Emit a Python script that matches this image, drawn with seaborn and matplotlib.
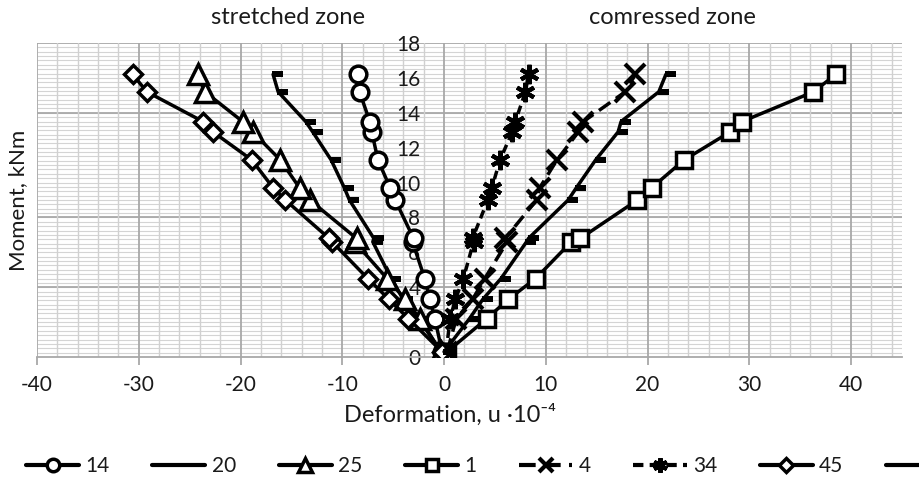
import matplotlib
matplotlib.use("Agg")
import matplotlib.pyplot as plt
import seaborn as sns
import numpy as np
from matplotlib.path import Path
from matplotlib.ticker import MultipleLocator, FixedLocator
from matplotlib.lines import Line2D

# ---------------- data ----------------
moment = [0.3, 2.2, 3.3, 4.5, 6.6, 6.8, 9.0, 9.7, 11.3, 12.9, 13.5, 15.2, 16.2]

s14 = [-0.2, -0.9, -1.4, -1.9, -3.1, -3.0, -4.8, -5.3, -6.5, -7.1, -7.3, -8.3, -8.5]
s20 = [-0.3, -2.5, -4.0, -5.2, -7.0, -6.9, -9.3, -9.8, -11.1, -12.9, -13.6, -16.3, -16.8]
s25 = [-0.3, -2.4, -3.8, -5.6, -8.8, -8.6, -13.2, -14.2, -16.1, -18.8, -19.8, -23.5, -24.2]
s1 = [0.3, 4.2, 6.3, 9.0, 12.5, 13.4, 19.0, 20.4, 23.6, 28.1, 29.3, 36.3, 38.5]
s4 = [0.3, 1.2, 2.8, 4.0, 6.2, 6.0, 9.1, 9.4, 11.1, 13.2, 13.7, 17.8, 18.8]
s34 = [0.2, 0.6, 1.1, 1.9, 2.9, 2.8, 4.3, 4.7, 5.5, 6.7, 7.0, 8.0, 8.3]
s45 = [-0.2, -3.5, -5.4, -7.5, -11.0, -11.3, -15.6, -16.8, -18.9, -22.7, -23.7, -29.2, -30.6]
s8 = [0.0, 2.5, 3.8, 5.6, 8.1, 8.3, 12.2, 13.0, 14.9, 17.1, 17.4, 21.1, 21.8]

series_labels = ["14", "20", "25", "1", "4", "34", "45", ""]
x_ticks = [-40, -30, -20, -10, 0, 10, 20, 30, 40]
y_ticks = [0, 2, 4, 6, 8, 10, 12, 14, 16, 18]
y_major_grid = [4, 8, 14, 18]

# ---------------- style ----------------
sns.set_theme(style="white")
plt.rcParams["font.family"] = ["Lato", "DejaVu Sans"]
plt.rcParams["axes.unicode_minus"] = False
TXT = "#1a1a1a"
FS = 15

dash_marker = Path(
    [(-0.1, -0.3), (1.0, -0.3), (1.0, 0.3), (-0.1, 0.3), (-0.1, -0.3)],
    [Path.MOVETO, Path.LINETO, Path.LINETO, Path.LINETO, Path.CLOSEPOLY],
)

styles = [
    dict(marker="o", markersize=12, mfc="white", ls="-"),
    dict(marker=dash_marker, markersize=15, mfc="black", ls="-"),
    dict(marker="^", markersize=14, mfc="white", ls="-"),
    dict(marker="s", markersize=12, mfc="white", ls="-"),
    dict(marker="x", markersize=14, mfc="white", ls=(0, (4, 2))),
    dict(marker=(6, 2, 0), markersize=14, mfc="white", ls=(0, (2.5, 1.5))),
    dict(marker="D", markersize=9.5, mfc="white", ls="-"),
    dict(marker=dash_marker, markersize=15, mfc="black", ls="-"),
]
all_series = [s14, s20, s25, s1, s4, s34, s45, s8]

fig = plt.figure(figsize=(9.19, 4.88), dpi=100)
ax = fig.add_axes([37 / 919, 131 / 488, 865 / 919, 314 / 488])

handles = []
for xs, lab, st in zip(all_series, series_labels, styles):
    mew = 0 if st["mfc"] == "black" else 2.5
    if st["marker"] in ("x", (6, 2, 0)):
        mew = 3.0
    sns.lineplot(
        x=xs, y=moment, ax=ax, sort=False, estimator=None, legend=False,
        color="black", linewidth=2.5, linestyle=st["ls"],
        marker=st["marker"], markersize=st["markersize"],
        markerfacecolor=st["mfc"], markeredgecolor="black", markeredgewidth=mew,
        zorder=3,
    )
    handles.append(Line2D([], [], color="black", linewidth=3.0, linestyle=st["ls"],
                          marker=st["marker"], markersize=st["markersize"] * 0.75,
                          markerfacecolor=st["mfc"], markeredgecolor="black",
                          markeredgewidth=mew))

ax.set_xlim(-40, 45)
ax.set_ylim(0, 18)
ax.set_axisbelow(True)

# grid
ax.xaxis.set_major_locator(FixedLocator(x_ticks))
ax.xaxis.set_minor_locator(MultipleLocator(2))
ax.yaxis.set_major_locator(FixedLocator(y_ticks))
ax.grid(False)
ax.grid(True, axis="x", which="minor", color="#d0d0d0", linewidth=1.0, zorder=0.4)
ax.grid(True, axis="x", which="major", color="#a8a8a8", linewidth=1.3, zorder=0.45)
ax.hlines(np.arange(0.25, 18, 0.25), -40, 45, color="#d4d4d4", linewidth=0.8, zorder=0.3)
ax.hlines(y_major_grid, -40, 45, color="#a8a8a8", linewidth=1.3, zorder=0.45)

for s in ["top", "right", "left"]:
    ax.spines[s].set_visible(False)
ax.spines["left"].set_position(("data", 0))
ax.spines["bottom"].set_color("#a8a8a8")
ax.spines["bottom"].set_linewidth(1.3)

ax.tick_params(axis="x", which="major", bottom=True, length=6, width=1.3,
               color="#a8a8a8", pad=7, labelsize=FS, labelcolor=TXT)
ax.tick_params(axis="x", which="minor", bottom=False)
ax.tick_params(axis="y", which="both", left=False, length=0, pad=17,
               labelsize=FS, labelcolor=TXT)

ax.set_xlabel("Deformation, u ·10⁻⁴", fontsize=17, color=TXT)
ax.xaxis.set_label_coords(413 / 865, -47 / 314)
ax.set_ylabel("Moment, kNm", fontsize=16, color=TXT)
ax.yaxis.set_label_coords(-9 / 865, 0.5)

fig.text(288 / 919, 1 - 18 / 488, "stretched zone", ha="center", va="center",
         fontsize=17, color=TXT)
fig.text(672 / 919, 1 - 18 / 488, "comressed zone", ha="center", va="center",
         fontsize=17, color=TXT)

fig.legend(handles, series_labels, loc="center left",
           bbox_to_anchor=(26 / 919, 22 / 488), ncol=8, frameon=False,
           fontsize=FS, handlelength=2.55, handletextpad=0.3,
           columnspacing=2.05, borderpad=0, borderaxespad=0, labelcolor=TXT)

fig.savefig("out.png", dpi=100)
